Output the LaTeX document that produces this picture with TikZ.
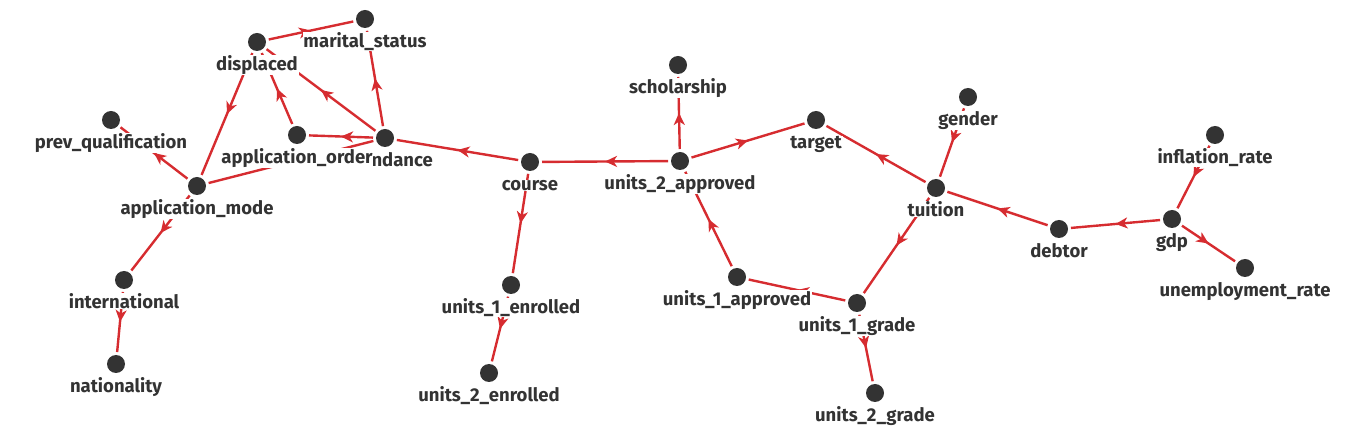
\documentclass[tikz,border=0pt]{standalone}
\usepackage{fontspec}
\setmainfont{Fira Sans}
\usetikzlibrary{arrows.meta,decorations.markings,calc}
\definecolor{edgered}{RGB}{214,44,48}
\definecolor{dotgray}{RGB}{51,51,51}
\tikzset{
  dot/.style={circle, fill=dotgray, minimum size=18pt, inner sep=0pt, outer sep=3pt},
  lbl/.style={font=\bfseries\fontsize{18.5}{18.5}\selectfont, text=dotgray, fill=white,
    inner xsep=0.8pt, inner ysep=0pt, anchor=base},
  edge/.style={draw=edgered, line width=2.4pt, postaction={decorate},
    decoration={markings, mark=at position 0.5 with {\arrow{Stealth[length=12pt,width=11pt,inset=3.5pt]}}}},
}
\newcommand{\lab}[2]{\node[lbl] (#1-l) at ($(#1)+(0,28.5)$) {#2};}
\begin{document}
\begin{tikzpicture}[x=1pt,y=-1pt]
\useasboundingbox (0,0) rectangle (1350,443);
% nodes
\node[dot] (ms) at (365,19) {};
\node[dot] (dis) at (257,42) {};
\node[dot] (pq) at (111,120) {};
\node[dot] (ao) at (297,135) {};
\node[dot] (att) at (385,138) {};
\node[dot] (am) at (197,186) {};
\node[dot] (intl) at (124,280) {};
\node[dot] (nat) at (116,364) {};
\node[dot] (course) at (530,162) {};
\node[dot] (u1e) at (511,285) {};
\node[dot] (u2e) at (489,373) {};
\node[dot] (sch) at (678,65) {};
\node[dot] (u2a) at (680,161) {};
\node[dot] (tgt) at (816,120) {};
\node[dot] (gen) at (968,97) {};
\node[dot] (tui) at (936,188) {};
\node[dot] (inf) at (1215,135) {};
\node[dot] (gdp) at (1172,219) {};
\node[dot] (deb) at (1059,229) {};
\node[dot] (unemp) at (1245,268) {};
\node[dot] (u1a) at (737,277) {};
\node[dot] (u1g) at (857,303) {};
\node[dot] (u2g) at (875,393) {};
% edges
\draw[edge] (dis) -- (ms);
\draw[edge] (att) -- (ms);
\draw[edge] (att) -- (dis);
\draw[edge] (ao) -- (dis);
\draw[edge] (att) -- (ao);
\draw[edge] (dis) -- (am);
\draw[edge] (am) -- (pq);
\draw[edge] (att) -- (am);
\draw[edge] (am) -- (intl);
\draw[edge] (intl) -- (nat);
\draw[edge] (course) -- (att);
\draw[edge] (course) -- (u1e);
\draw[edge] (u1e) -- (u2e);
\draw[edge] (u2a) -- (course);
\draw[edge] (u2a) -- (sch);
\draw[edge] (u2a) -- (tgt);
\draw[edge] (tui) -- (tgt);
\draw[edge] (gen) -- (tui);
\draw[edge] (deb) -- (tui);
\draw[edge] (gdp) -- (deb);
\draw[edge] (inf) -- (gdp);
\draw[edge] (gdp) -- (unemp);
\draw[edge] (tui) -- (u1g);
\draw[edge] (u1a) -- (u2a);
\draw[edge] (u1g) -- (u1a);
\draw[edge] (u1g) -- (u2g);
% labels
\lab{ms}{marital\_status}
\lab{dis}{displaced}
\lab{pq}{prev\_qualification}
\lab{att}{attendance}
\lab{ao}{application\_order}
\lab{am}{application\_mode}
\lab{intl}{international}
\lab{nat}{nationality}
\lab{course}{course}
\lab{u1e}{units\_1\_enrolled}
\lab{u2e}{units\_2\_enrolled}
\lab{sch}{scholarship}
\lab{u2a}{units\_2\_approved}
\lab{tgt}{target}
\lab{gen}{gender}
\lab{tui}{tuition}
\lab{inf}{inflation\_rate}
\lab{gdp}{gdp}
\lab{deb}{debtor}
\lab{unemp}{unemployment\_rate}
\lab{u1a}{units\_1\_approved}
\lab{u1g}{units\_1\_grade}
\lab{u2g}{units\_2\_grade}
\end{tikzpicture}
\end{document}
